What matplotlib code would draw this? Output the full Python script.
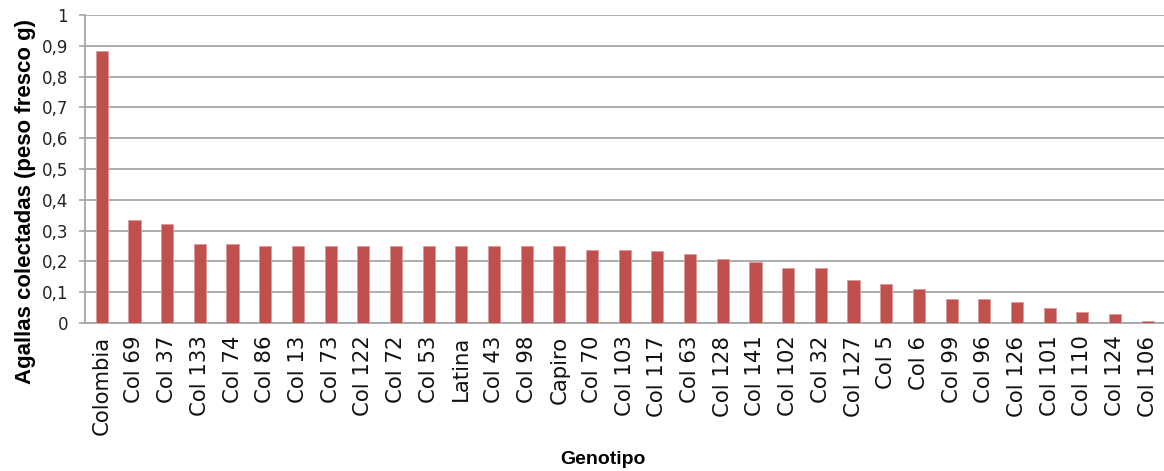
import matplotlib
matplotlib.use("Agg")
import matplotlib.pyplot as plt
from matplotlib.ticker import FuncFormatter
import numpy as np

genotipos = ["Colombia", "Col 69", "Col 37", "Col 133", "Col 74", "Col 86", "Col 13",
             "Col 73", "Col 122", "Col 72", "Col 53", "Latina", "Col 43", "Col 98",
             "Capiro", "Col 70", "Col 103", "Col 117", "Col 63", "Col 128", "Col 141",
             "Col 102", "Col 32", "Col 127", "Col 5", "Col 6", "Col 99", "Col 96",
             "Col 126", "Col 101", "Col 110", "Col 124", "Col 106"]
agallas = [0.884, 0.334, 0.321, 0.256, 0.256, 0.249, 0.249, 0.249, 0.249, 0.249,
           0.249, 0.249, 0.249, 0.249, 0.249, 0.237, 0.237, 0.233, 0.224, 0.208,
           0.199, 0.180, 0.180, 0.139, 0.127, 0.110, 0.078, 0.078, 0.069, 0.049,
           0.037, 0.029, 0.008]
y_ticks = [0, 0.1, 0.2, 0.3, 0.4, 0.5, 0.6, 0.7, 0.8, 0.9, 1.0]

plt.rcParams["font.family"] = ["DejaVu Sans"]

fig = plt.figure(figsize=(11.64, 4.71), dpi=100)
ax = fig.add_axes([0.0734, 0.314, 0.9266, 0.654])

x = np.arange(len(genotipos))
ax.bar(x, agallas, width=0.37, color="#C0504D", edgecolor="#D99A98", linewidth=0.6, zorder=3)

ax.set_xlim(-0.5, len(genotipos) - 0.5)
ax.set_ylim(0, 1)
ax.set_yticks(y_ticks)
ax.yaxis.set_major_formatter(FuncFormatter(
    lambda v, _: "0" if v == 0 else ("1" if abs(v - 1) < 1e-9 else f"{v:.1f}".replace(".", ","))))
ax.grid(axis="y", color="#A6A6A6", linewidth=1.3, zorder=0)
ax.set_axisbelow(True)

ax.set_xticks(x)
ax.set_xticklabels(genotipos, rotation=90, fontsize=15.3, color="#111111")
ax.tick_params(axis="x", length=0, pad=9)
ax.tick_params(axis="y", length=4.5, color="#A6A6A6", width=1.2, labelsize=12,
               labelcolor="#222222", pad=8)

for side in ["top", "right"]:
    ax.spines[side].set_visible(False)
for side in ["left", "bottom"]:
    ax.spines[side].set_color("#A6A6A6")
    ax.spines[side].set_linewidth(1.3)

fig.text(0.0215, 0.572, "Agallas colectadas (peso fresco g)", rotation=90,
         ha="center", va="center", fontsize=16, fontweight="bold",
         family="Liberation Sans")
fig.text(0.518, 0.025, "Genotipo", ha="center", va="center", fontsize=14,
         fontweight="bold", family="Liberation Sans")

fig.savefig("out.png", dpi=100)
